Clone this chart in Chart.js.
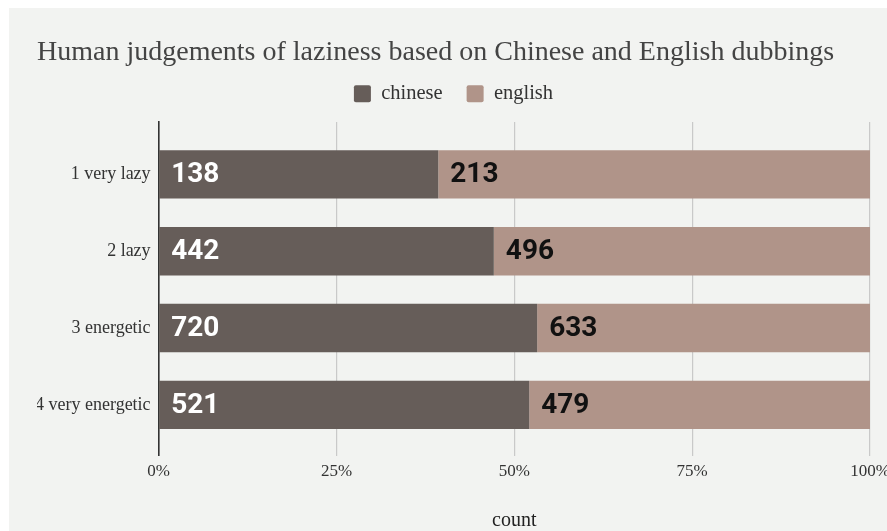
<!DOCTYPE html>
<html>
<head>
<meta charset="utf-8">
<script src="https://cdn.jsdelivr.net/npm/chart.js@4"></script>
<style>
  html, body { margin: 0; padding: 0; background: #ffffff; overflow: hidden; }
  #wrap {
    position: absolute; left: 9px; top: 8px;
    width: 905px; height: 523px;
    background: #f2f3f1;
  }
</style>
</head>
<body>
<div id="wrap"><canvas id="chart"></canvas></div>
<script>
// answers per rating, by dubbing language
const ratings = ['1 very lazy', '2 lazy', '3 energetic', '4 very energetic'];
const chinese = [138, 442, 720, 521];
const english = [213, 496, 633, 479];
const xTicks = [0, 25, 50, 75, 100];

const serif = '"Liberation Serif", "Times New Roman", serif';

// share of each row, so every bar fills 100%
function share(values, i) {
  return values[i] / (chinese[i] + english[i]) * 100;
}
function rows(values) {
  return ratings.map((r, i) => ({ x: share(values, i), y: i, count: values[i] }));
}

// count printed at the left end of each segment
const countLabels = {
  id: 'countLabels',
  afterDatasetsDraw(chart) {
    const ctx = chart.ctx;
    ctx.save();
    ctx.font = 'bold 28px Roboto';
    ctx.textBaseline = 'middle';
    ctx.textAlign = 'left';
    chart.data.datasets.forEach((ds, d) => {
      ctx.fillStyle = d === 0 ? '#ffffff' : '#111111';
      chart.getDatasetMeta(d).data.forEach((bar, i) => {
        ctx.fillText(String(ds.data[i].count), bar.base + 12, bar.y + 1);
      });
    });
    ctx.restore();
  }
};

// a bit more room between legend and plot
const legendGap = {
  id: 'legendGap',
  beforeInit(chart) {
    const fit = chart.legend.fit;
    chart.legend.fit = function () {
      fit.call(this);
      this.height += 8;
    };
  }
};

new Chart(document.getElementById('chart'), {
  type: 'bar',
  data: {
    datasets: [
      { label: 'chinese', data: rows(chinese), backgroundColor: '#665d59' },
      { label: 'english', data: rows(english), backgroundColor: '#b09489' }
    ]
  },
  options: {
    indexAxis: 'y',
    responsive: true,
    maintainAspectRatio: false,
    animation: false,
    datasets: { bar: { categoryPercentage: 1, barPercentage: 0.63 } },
    layout: { padding: { left: 28, right: 44, bottom: 0 } },
    plugins: {
      tooltip: { enabled: false },
      title: {
        display: true,
        text: 'Human judgements of laziness based on Chinese and English dubbings',
        align: 'start',
        color: '#444444',
        font: { family: serif, size: 28, weight: 'normal' },
        padding: { top: 28, bottom: -10 }
      },
      legend: {
        labels: {
          color: '#333333',
          font: { family: serif, size: 20.5 },
          boxWidth: 17,
          boxHeight: 17,
          useBorderRadius: true,
          borderRadius: 2,
          padding: 24
        }
      }
    },
    scales: {
      x: {
        stacked: true,
        min: 0,
        max: 100,
        afterBuildTicks(scale) { scale.ticks = xTicks.map(v => ({ value: v })); },
        ticks: {
          color: '#333333',
          font: { family: serif, size: 17 },
          padding: 6,
          callback: v => v + '%'
        },
        grid: { color: '#c9c9c9', lineWidth: 1.2, drawTicks: false },
        border: { display: false },
        title: {
          display: true,
          text: 'count',
          color: '#222222',
          font: { family: serif, size: 20 },
          padding: { top: 21, bottom: -2 }
        }
      },
      y: {
        type: 'linear',
        stacked: true,
        reverse: true,
        offset: false,
        min: -0.68,
        max: 3.66,
        afterBuildTicks(scale) { scale.ticks = ratings.map((r, i) => ({ value: i })); },
        // the label column needs no spare room on its left
        afterFit(scale) { scale.width -= 10; },
        ticks: {
          color: '#333333',
          font: { family: serif, size: 18 },
          padding: 8,
          callback: v => ratings[v]
        },
        grid: { display: false, drawTicks: false, offset: false },
        border: { color: '#333333', width: 1.6 }
      }
    }
  },
  plugins: [countLabels, legendGap]
});
</script>
</body>
</html>
